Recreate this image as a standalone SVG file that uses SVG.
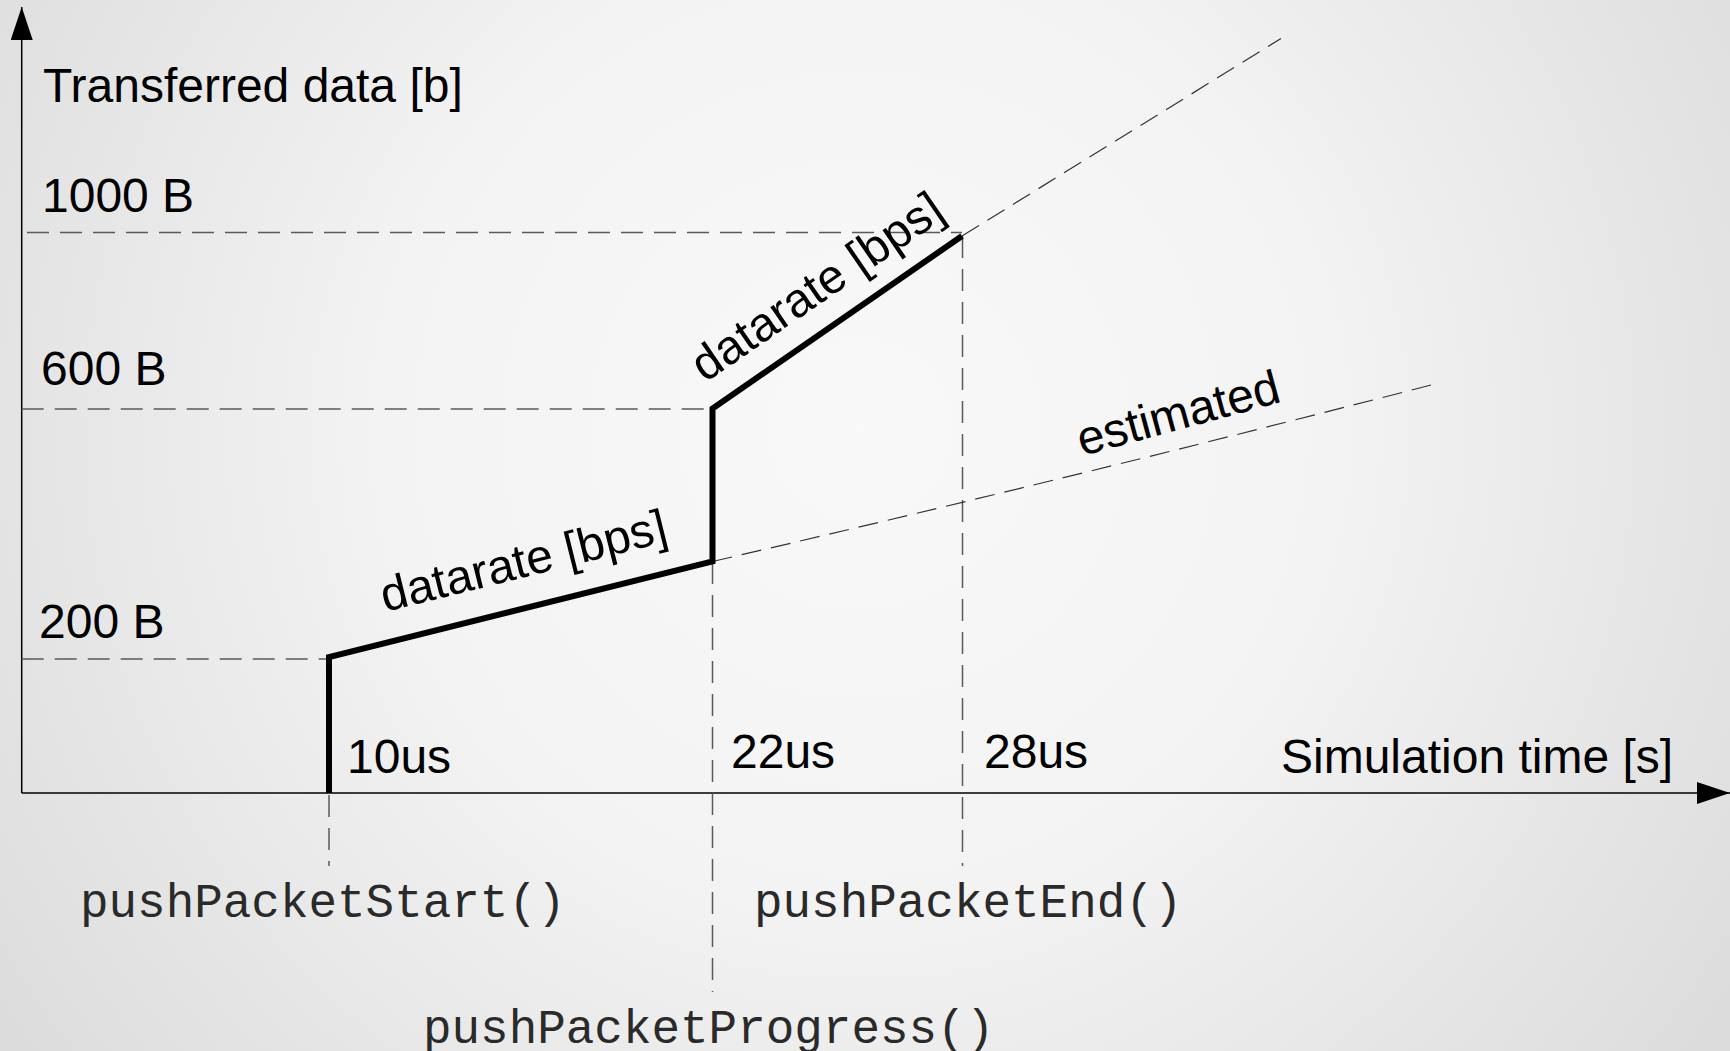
<svg xmlns="http://www.w3.org/2000/svg" width="1730" height="1051" viewBox="0 0 1730 1051">
  <defs>
    <radialGradient id="bg" gradientUnits="userSpaceOnUse" cx="860" cy="430" r="1050">
      <stop offset="0" stop-color="#f9f9f9"/>
      <stop offset="0.45" stop-color="#f3f3f3"/>
      <stop offset="1" stop-color="#dcdcdc"/>
    </radialGradient>
    <marker id="arrow" markerUnits="userSpaceOnUse" viewBox="0 0 33 22" markerWidth="33" markerHeight="22" refX="33" refY="11" orient="auto">
      <path d="M0,0 L33,11 L0,22 Z" fill="#000"/>
    </marker>
    <style>
      .axis { stroke: #000; stroke-width: 1.5; fill: none; }
      .guide { stroke: #5a5a5a; stroke-width: 1.5; fill: none; stroke-dasharray: 22 11; }
      .trend { stroke: #333; stroke-width: 1.2; fill: none; stroke-dasharray: 20 10; }
      .curve { stroke: #000; stroke-width: 6; fill: none; stroke-linejoin: miter; }
      .lbl { font-family: "Liberation Sans", Arial, sans-serif; font-size: 48px; fill: #000; }
      .code { font-family: "Liberation Mono", "Courier New", monospace; font-size: 47.6px; fill: #2a2a2a; }
    </style>
  </defs>

  <rect width="1730" height="1051" fill="url(#bg)"/>

  <!-- axes -->
  <g id="axes">
    <line class="axis" x1="21.7" y1="793" x2="21.7" y2="7" marker-end="url(#arrow)"/>
    <line class="axis" x1="21.7" y1="793" x2="1730" y2="793" marker-end="url(#arrow)"/>
    <text class="lbl" x="43" y="102">Transferred data [b]</text>
    <text class="lbl" x="1281" y="773">Simulation time [s]</text>
  </g>

  <!-- dashed reference lines -->
  <g id="connectors">
    <line class="guide" x1="27" y1="232.5" x2="962" y2="232.5"/>
    <line class="guide" x1="21.7" y1="409" x2="712.5" y2="409"/>
    <line class="guide" x1="21.7" y1="659" x2="329" y2="659"/>
    <line class="guide" x1="329" y1="795" x2="329" y2="866"/>
    <line class="guide" x1="712.5" y1="562" x2="712.5" y2="992"/>
    <line class="guide" x1="962.5" y1="236" x2="962.5" y2="866"/>
    <path class="trend" d="M712.5,561.5 Q1072,478 1431,385"/>
    <line class="trend" x1="962" y1="236" x2="1281" y2="38.5"/>
    <!-- transferred data over time -->
    <polyline class="curve" points="329,793 329,657 712.5,561.5 712.5,408.5 962,236"/>
  </g>

  <!-- value labels -->
  <g id="y-ticks">
    <text class="lbl" x="42" y="212">1000 B</text>
    <text class="lbl" x="41" y="385">600 B</text>
    <text class="lbl" x="39" y="638">200 B</text>
  </g>
  <g id="x-ticks">
    <text class="lbl" x="347" y="773">10us</text>
    <text class="lbl" x="731" y="768">22us</text>
    <text class="lbl" x="984" y="768">28us</text>
  </g>

  <g id="rate-low">
    <text class="lbl" transform="translate(385,612) rotate(-14)">datarate [bps]</text>
  </g>
  <g id="rate-high">
    <text class="lbl" transform="translate(705,383) rotate(-34.5)">datarate [bps]</text>
  </g>
  <g id="estimate">
    <text class="lbl" transform="translate(1082,456) rotate(-15.2)">estimated</text>
  </g>

  <!-- API calls -->
  <g id="push-start">
    <text class="code" x="80" y="917">pushPacketStart()</text>
  </g>
  <g id="push-end">
    <text class="code" x="754" y="917">pushPacketEnd()</text>
  </g>
  <g id="push-progress">
    <text class="code" x="423" y="1043">pushPacketProgress()</text>
  </g>
</svg>
